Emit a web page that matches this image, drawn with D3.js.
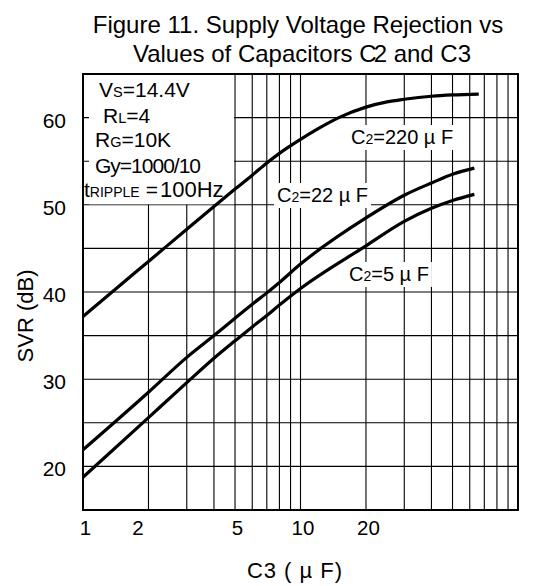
<!DOCTYPE html>
<html>
<head>
<meta charset="utf-8">
<script src="https://cdn.jsdelivr.net/npm/d3@7"></script>
<style>
  body { margin: 0; background: #fff; }
  text { font-family: "Liberation Sans", Arial, sans-serif; fill: #000; }
</style>
</head>
<body>
<div id="chart"></div>
<script>
// C3 (uF) and SVR (dB) for each C2
const c3Ticks = [1, 2, 5, 10, 20];
const svrTicks = [20, 30, 40, 50, 60];

const c3_220 = [1, 1.5, 2, 3, 4, 5, 6, 7, 8, 10, 12, 15, 20, 25, 30, 40, 50, 66];
const svr_220 = [37.2, 40.9, 43.5, 47.2, 49.8, 51.8, 53.4, 54.8, 55.9, 57.5, 58.7, 60.0, 61.2, 61.8, 62.1, 62.45, 62.6, 62.7];

const c3_22 = [1, 2, 3, 4, 5, 6, 7, 8, 10, 20, 30, 40, 50, 63];
const svr_22 = [21.9, 28.5, 32.5, 35.0, 37.0, 38.6, 39.9, 41.1, 43.2, 48.5, 51.1, 52.5, 53.5, 54.2];

const c3_5 = [1, 2, 3, 4, 5, 6, 7, 8, 10, 20, 30, 40, 50, 63];
const svr_5 = [18.75, 25.6, 29.6, 32.4, 34.4, 36.0, 37.3, 38.5, 40.4, 45.3, 48.1, 49.6, 50.5, 51.2];

const seriesNames = ['220', '22', '5'];

// layout
const width = 552;
const height = 586;
const plot = { left: 83, right: 518, top: 74, bottom: 510 };
const font = '"Liberation Sans", Arial, sans-serif';

const x = d3.scaleLog().domain([1, 100]).range([plot.left, plot.right]);
const y = d3.scaleLinear().domain([15, 65]).range([plot.bottom, plot.top]);

const series = [
  { name: seriesNames[0], c3: c3_220, svr: svr_220 },
  { name: seriesNames[1], c3: c3_22, svr: svr_22 },
  { name: seriesNames[2], c3: c3_5, svr: svr_5 }
].map(s => ({ name: s.name, pts: s.c3.map((c, i) => [c, s.svr[i]]) }));

const svg = d3.select('#chart').append('svg')
  .attr('width', width)
  .attr('height', height);

// title
const title = svg.append('g').style('font-size', '24px').attr('text-anchor', 'middle');
title.append('text').attr('x', 298).attr('y', 33).text('Figure 11. Supply Voltage Rejection vs');
const t2 = title.append('text').attr('x', 302).attr('y', 62);
t2.append('tspan').text('Values of Capacitors C');
t2.append('tspan').attr('dx', -3).text('2 and C3');

// grid
const grid = svg.append('g')
  .attr('stroke', '#000')
  .attr('stroke-width', 1.1);

grid.selectAll('.vx')
  .data(x.ticks())
  .enter()
  .append('line')
  .attr('x1', d => x(d)).attr('x2', d => x(d))
  .attr('y1', plot.top).attr('y2', plot.bottom);

grid.selectAll('.hy')
  .data(y.ticks(10))
  .enter()
  .append('line')
  .attr('x1', plot.left).attr('x2', plot.right)
  .attr('y1', d => y(d)).attr('y2', d => y(d));

// axes (labels only)
const xAxis = svg.append('g')
  .attr('transform', `translate(0,${plot.bottom})`)
  .call(d3.axisBottom(x).tickValues(c3Ticks).tickFormat(d3.format('d')).tickSize(0).tickPadding(10));
xAxis.select('.domain').remove();
xAxis.selectAll('text')
  .style('font-size', '20.5px')
  .style('font-family', font)
  .attr('fill', '#000')
  .attr('dx', d => d === 2 ? -11 : 2);

const yAxis = svg.append('g')
  .attr('transform', `translate(${plot.left},0)`)
  .call(d3.axisLeft(y).tickValues(svrTicks).tickSize(0).tickPadding(17));
yAxis.select('.domain').remove();
yAxis.selectAll('text')
  .style('font-size', '21px')
  .style('font-family', font)
  .attr('fill', '#000')
  .attr('dy', '0.45em');

svg.append('text')
  .attr('x', 295).attr('y', 578)
  .attr('text-anchor', 'middle')
  .style('font-size', '22px')
  .style('letter-spacing', '1px')
  .text('C3 ( µ F)');

svg.append('text')
  .attr('transform', 'translate(33,316) rotate(-90)')
  .attr('text-anchor', 'middle')
  .style('font-size', '22px')
  .text('SVR (dB)');

// conditions box
svg.append('rect')
  .attr('x', plot.left + 6).attr('y', plot.top + 1)
  .attr('width', x(5) - plot.left - 7)
  .attr('height', y(50) - plot.top - 1.5)
  .attr('fill', '#fff');

// parts: [text, size, dx]
const rich = (g, parts, px, py) => {
  const t = g.append('text').attr('x', px).attr('y', py);
  parts.forEach(([s, size, dx]) => t.append('tspan')
    .attr('dx', dx || null)
    .style('font-size', size + 'px')
    .text(s));
  return t;
};

const cond = svg.append('g');
rich(cond, [['V', 21], ['S', 14.5], ['=14.4V', 21]], 99, 97);
rich(cond, [['R', 21], ['L', 14.5], ['=4', 21]], 103, 123);
rich(cond, [['R', 21], ['G', 14.5], ['=10K', 21]], 95, 147);
rich(cond, [['Gy=1000/10', 21]], 95, 173).style('letter-spacing', '-1px');
rich(cond, [['t', 21], ['RIPPLE', 14], ['=', 21, 6], ['100Hz', 22, 2]], 84, 197);

// curve labels with white backing
const labels = [
  { parts: [['C', 20], ['2', 14], ['=220 µ F', 20]], x: 351, y: 144 },
  { parts: [['C', 20], ['2', 14], ['=22 µ F', 20]], x: 277, y: 202 },
  { parts: [['C', 20], ['2', 14], ['=5 µ F', 20]], x: 349, y: 281 }
];
labels.forEach(l => {
  const g = svg.append('g');
  const t = rich(g, l.parts, l.x, l.y);
  const b = t.node().getBBox();
  g.insert('rect', 'text')
    .attr('x', b.x - 3).attr('y', b.y - 1)
    .attr('width', b.width + 6).attr('height', b.height + 3)
    .attr('fill', '#fff');
});

// curves
const line = d3.line()
  .x(d => x(d[0]))
  .y(d => y(d[1]))
  .curve(d3.curveMonotoneX);

svg.append('g')
  .selectAll('path')
  .data(series)
  .enter()
  .append('path')
  .attr('d', d => line(d.pts))
  .attr('fill', 'none')
  .attr('stroke', '#000')
  .attr('stroke-width', 3.2);

// frame
svg.append('rect')
  .attr('x', plot.left).attr('y', plot.top)
  .attr('width', plot.right - plot.left)
  .attr('height', plot.bottom - plot.top)
  .attr('fill', 'none')
  .attr('stroke', '#000')
  .attr('stroke-width', 2);
</script>
</body>
</html>
